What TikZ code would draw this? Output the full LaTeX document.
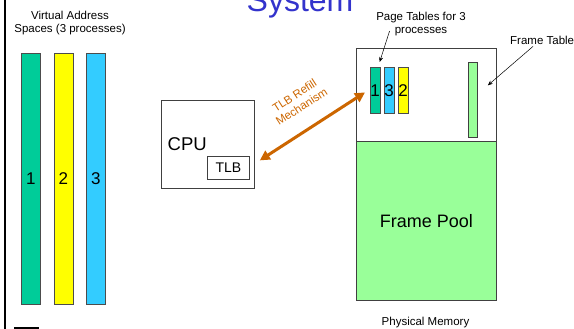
\documentclass[tikz,border=0pt]{standalone}
\usepackage{fontspec}
\setmainfont{Liberation Sans}
\usetikzlibrary{
  positioning,
  arrows.meta,
  calc
}

\definecolor{vagreen}{HTML}{00CC99}
\definecolor{vayellow}{HTML}{FFFF00}
\definecolor{vablue}{HTML}{33CCFF}
\definecolor{memgreen}{HTML}{99FF99}
\definecolor{refillorange}{HTML}{CC6600}
\definecolor{titleblue}{HTML}{3333CC}

\begin{document}
\begin{tikzpicture}[
  x=1pt, y=-1pt,
  vbar/.style={draw=black!70, line width=0.8pt, anchor=north west, inner sep=0pt, minimum width=19pt, minimum height=251pt, font=\fontsize{17}{17}\selectfont},
  ptbar/.style={draw=black!70, line width=0.8pt, anchor=north west, inner sep=0pt, minimum width=9.5pt, minimum height=46pt, font=\fontsize{17}{17}\selectfont},
  box/.style={draw=black!75, line width=0.8pt, anchor=north west, inner sep=0pt},
  caption/.style={align=center, inner sep=1pt, font=\fontsize{11.5}{13}\selectfont},
  pointer/.style={-{Stealth[length=5pt,width=4pt]}, line width=0.5pt},
  refill/.style={{Triangle[length=10pt,width=10pt]}-{Triangle[length=10pt,width=10pt]}, line width=3pt, draw=refillorange}
]
\useasboundingbox (0,0) rectangle (574,329);

% Title
\node[anchor=base, inner sep=0pt, text=titleblue, font=\fontsize{32}{32}\selectfont] (title) at (300,12) {System};

% Frame lines
\draw[line width=2pt] (5,0) -- (5,329);
\draw[line width=2.5pt] (14,328.5) -- (39,328.5);

% Virtual address spaces
\node[caption] (vaslabel) at (70,23.5) {Virtual Address\\Spaces (3 processes)};
\node[vbar, fill=vagreen] (vas1) at (21,53) {1};
\node[vbar, fill=vayellow] (vas2) at (53.5,53) {2};
\node[vbar, fill=vablue] (vas3) at (86,53) {3};

% CPU
\node[box, minimum width=93pt, minimum height=88pt] (cpu) at (161,100) {};
\node[anchor=west, inner sep=0pt, font=\fontsize{18.5}{18.5}\selectfont] (cpulabel) at ([xshift=6.5pt]cpu.west) {CPU};
\node[box, minimum width=42pt, minimum height=23pt, font=\fontsize{14}{14}\selectfont] (tlb) at (207,156) {TLB};

% Physical memory
\node[box, minimum width=140pt, minimum height=252pt] (physmem) at (356,48) {};
\node[box, fill=memgreen, minimum width=140pt, minimum height=159pt, font=\fontsize{18}{18}\selectfont] (pool) at (356,141) {Frame Pool};
\node[caption] (physlabel) at (425.5,323) {Physical Memory};

% Page tables and frame table
\node[ptbar, fill=vagreen] (pt1) at (370,67) {1};
\node[ptbar, fill=vablue] (pt3) at (384,67) {3};
\node[ptbar, fill=vayellow] (pt2) at (398,67) {2};
\node[box, fill=memgreen, minimum width=9pt, minimum height=75pt] (ft) at (468,62) {};

\node[caption] (ptlabel) at (421,24) {Page Tables for 3\\processes};
\node[caption, anchor=west] (ftlabel) at (509,40) {Frame Table};

% Arrows
\draw[pointer] ([xshift=14.5pt,yshift=6pt]ptlabel.south west) -- ([xshift=4.5pt,yshift=5pt]pt1.north);
\draw[pointer] ([xshift=24pt,yshift=-1pt]ftlabel.south west) -- ([xshift=10pt,yshift=14.5pt]ft.east);
\draw[refill] ([xshift=10pt,yshift=7.5pt]tlb.east) -- ([xshift=-5pt,yshift=-2pt]pt1.west);
\node[caption, text=refillorange, rotate=33] (refilllabel) at (298,101) {TLB Refill\\Mechanism};

\end{tikzpicture}
\end{document}
